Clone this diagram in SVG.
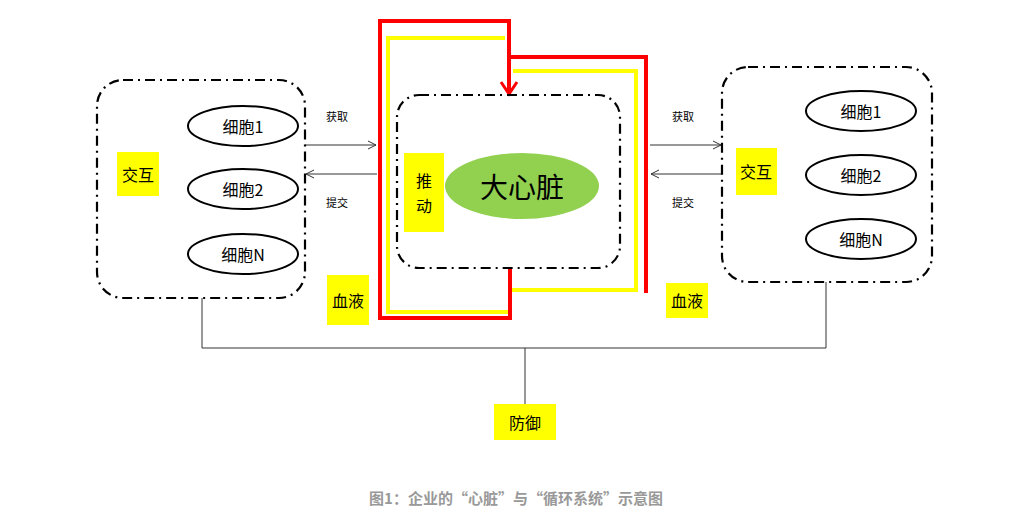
<svg xmlns="http://www.w3.org/2000/svg" width="1032" height="528" viewBox="0 0 1032 528">
<style>
text{font-family:"Noto Sans CJK SC","Liberation Sans",sans-serif;fill:#000;text-anchor:middle;dominant-baseline:central}
.box{fill:none;stroke:#000;stroke-width:2.2;stroke-dasharray:10,5,2,5}
.cell{fill:#fff;stroke:#000;stroke-width:2}
.y{fill:#ffff00}
.t{font-size:16px}
.s{font-size:11px}
.ln{fill:none;stroke:#333;stroke-width:1}
</style>
<defs>
<marker id="a" markerWidth="10" markerHeight="10" refX="9" refY="5" orient="auto" markerUnits="userSpaceOnUse"><path d="M1,1 L9,5 L1,9" fill="none" stroke="#333" stroke-width="1"/></marker>
<marker id="r" markerWidth="20" markerHeight="20" refX="16" refY="10" orient="auto" markerUnits="userSpaceOnUse"><path d="M4,2 L16,10 L4,18" fill="none" stroke="#f00" stroke-width="3"/></marker>
</defs>
<g id="connectors">
<path class="ln" d="M202,298 V348 H826 V282 M525,348 V404"/>
<path class="ln" d="M305,145 H376" marker-end="url(#a)"/>
<path class="ln" d="M377,174 H306" marker-end="url(#a)"/>
<path class="ln" d="M650,145 H721" marker-end="url(#a)"/>
<path class="ln" d="M722,174 H651" marker-end="url(#a)"/>
<path d="M505,38 H388 V312 H510" fill="none" stroke="#ffff00" stroke-width="4"/>
<path d="M513,71 H636 V290 H512" fill="none" stroke="#ffff00" stroke-width="4"/>
<path d="M510,268 V318 H380 V21 H509 V94" fill="none" stroke="#f00" stroke-width="4" marker-end="url(#r)"/>
<path d="M509,57 H646 V293" fill="none" stroke="#f00" stroke-width="4"/>
</g>
<g id="left">
<rect class="box" x="97" y="80" width="208" height="218" rx="26"/>
<ellipse class="cell" cx="243" cy="126" rx="55" ry="20"/><text class="t" x="243" y="126">细胞1</text>
<ellipse class="cell" cx="243" cy="189" rx="55" ry="20"/><text class="t" x="243" y="189">细胞2</text>
<ellipse class="cell" cx="243" cy="254" rx="55" ry="20"/><text class="t" x="243" y="254">细胞N</text>
<rect class="y" x="117" y="152" width="42" height="44"/><text class="t" x="138" y="174">交互</text>
</g>
<g id="right">
<rect class="box" x="722" y="67" width="210" height="215" rx="26"/>
<ellipse class="cell" cx="861" cy="111" rx="55" ry="20"/><text class="t" x="861" y="111">细胞1</text>
<ellipse class="cell" cx="861" cy="175" rx="55" ry="20"/><text class="t" x="861" y="175">细胞2</text>
<ellipse class="cell" cx="861" cy="239" rx="55" ry="20"/><text class="t" x="861" y="239">细胞N</text>
<rect class="y" x="736" y="148" width="41" height="47"/><text class="t" x="756" y="171">交互</text>
</g>
<g id="heart">
<rect class="box" x="397" y="95" width="223" height="173" rx="22"/>
<rect class="y" x="404" y="153" width="40" height="79"/><text class="t" x="424" y="180">推</text><text class="t" x="424" y="205">动</text>
<ellipse cx="522" cy="186" rx="77" ry="33" fill="#92d050"/><text x="522" y="186" font-size="28">大心脏</text>
</g>
<g id="labels">
<text class="s" x="337" y="116">获取</text><text class="s" x="337" y="202">提交</text>
<text class="s" x="683" y="116">获取</text><text class="s" x="683" y="202">提交</text>
<rect class="y" x="327" y="275" width="42" height="50"/><text class="t" x="348" y="300">血液</text>
<rect class="y" x="666" y="283" width="42" height="35"/><text class="t" x="687" y="300">血液</text>
<rect class="y" x="494" y="404" width="62" height="36"/><text class="t" x="525" y="422">防御</text>
</g>
<text x="516" y="497" font-size="15" font-weight="bold" style="fill:#999">图1：企业的“心脏”与“循环系统”示意图</text>
</svg>
